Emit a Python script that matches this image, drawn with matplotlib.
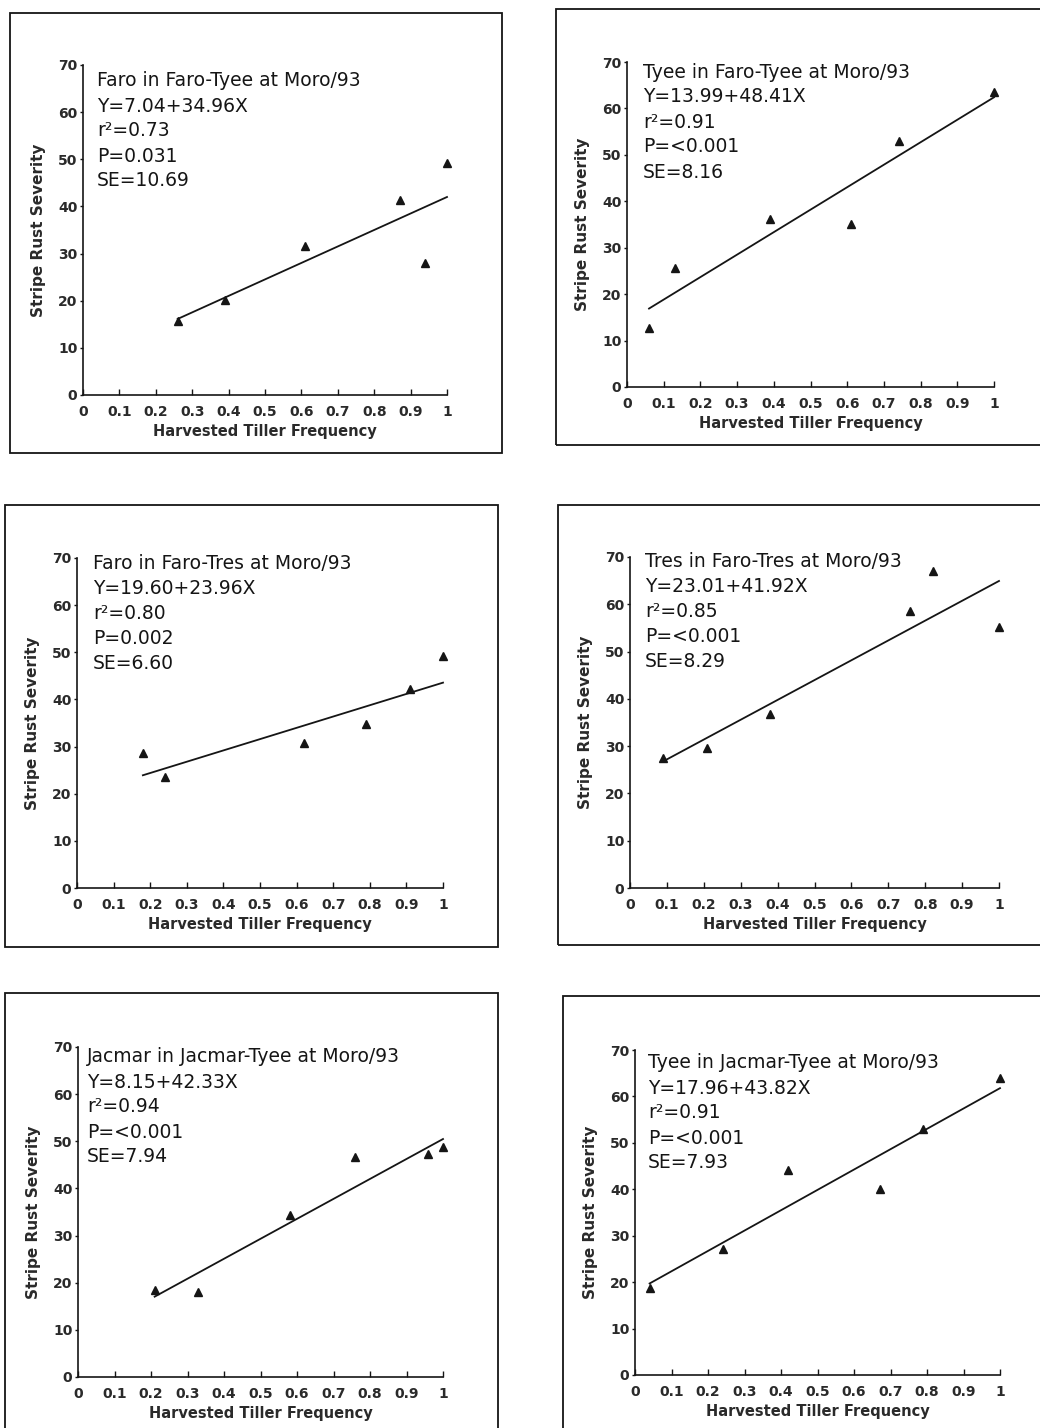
import matplotlib
matplotlib.use("Agg")
import matplotlib.pyplot as plt
from matplotlib.patches import Rectangle
import numpy as np

plt.rcParams['font.family'] = ['DejaVu Sans']

# ---- data ----
titles = [
    "Faro in Faro-Tyee at Moro/93",
    "Tyee in Faro-Tyee at Moro/93",
    "Faro in Faro-Tres at Moro/93",
    "Tres in Faro-Tres at Moro/93",
    "Jacmar in Jacmar-Tyee at Moro/93",
    "Tyee in Jacmar-Tyee at Moro/93",
]
intercepts = [7.04, 13.99, 19.60, 23.01, 8.15, 17.96]
slopes = [34.96, 48.41, 23.96, 41.92, 42.33, 43.82]
r2_vals = ["0.73", "0.91", "0.80", "0.85", "0.94", "0.91"]
p_vals = ["0.031", "<0.001", "0.002", "<0.001", "<0.001", "<0.001"]
se_vals = ["10.69", "8.16", "6.60", "8.29", "7.94", "7.93"]

x_faro_tyee = [0.26, 0.39, 0.61, 0.87, 0.94, 1.00]
y_faro_tyee = [15.8, 20.2, 31.6, 41.4, 28.0, 49.2]
x_tyee_faro = [0.06, 0.13, 0.39, 0.61, 0.74, 1.00]
y_tyee_faro = [12.7, 25.6, 36.2, 35.1, 53.0, 63.5]
x_faro_tres = [0.18, 0.24, 0.62, 0.79, 0.91, 1.00]
y_faro_tres = [28.6, 23.5, 30.8, 34.8, 42.2, 49.2]
x_tres_faro = [0.09, 0.21, 0.38, 0.76, 0.82, 1.00]
y_tres_faro = [27.5, 29.6, 36.8, 58.6, 67.0, 55.2]
x_jacmar_tyee = [0.21, 0.33, 0.58, 0.76, 0.96, 1.00]
y_jacmar_tyee = [18.5, 18.0, 34.4, 46.7, 47.3, 48.8]
x_tyee_jacmar = [0.04, 0.24, 0.42, 0.67, 0.79, 1.00]
y_tyee_jacmar = [18.7, 27.1, 44.2, 40.0, 53.0, 64.0]

xs = [x_faro_tyee, x_tyee_faro, x_faro_tres, x_tres_faro, x_jacmar_tyee, x_tyee_jacmar]
ys = [y_faro_tyee, y_tyee_faro, y_faro_tres, y_tres_faro, y_jacmar_tyee, y_tyee_jacmar]

x_ticks = [0, 0.1, 0.2, 0.3, 0.4, 0.5, 0.6, 0.7, 0.8, 0.9, 1]
x_ticklabels = ["0", "0.1", "0.2", "0.3", "0.4", "0.5", "0.6", "0.7", "0.8", "0.9", "1"]
y_ticks = [0, 10, 20, 30, 40, 50, 60, 70]
x_label = "Harvested Tiller Frequency"
y_label = "Stripe Rust Severity"

# ---- layout (pixels) ----
W, H = 1040, 1428
fig = plt.figure(figsize=(W / 100, H / 100), dpi=100)
fig.patch.set_facecolor("white")

axes_px = [
    (83, 447, 65, 395),
    (627, 994, 62, 387),
    (77, 443, 558, 888),
    (630, 999, 557, 888),
    (78, 443, 1047, 1377),
    (635, 1000, 1050, 1375),
]
frames_px = [
    (10, 502, 13, 453),
    (556, 1050, 9, 445),
    (5, 498, 505, 947),
    (558, 1050, 505, 945),
    (5, 498, 993, 1440),
    (563, 1050, 996, 1440),
]
# text block offset (px) from axes top-left corner to first line centre
text_off = [(14, 16), (16, 10), (16, 6), (15, 5), (9, 10), (13, 13)]
line_gap = 25

ink = "#151515"
tick_col = "#2a2a2a"

for (fx0, fx1, fy0, fy1) in frames_px:
    fig.patches.append(Rectangle((fx0 / W, 1 - fy1 / H), (fx1 - fx0) / W, (fy1 - fy0) / H,
                                 transform=fig.transFigure, fill=False,
                                 edgecolor=ink, linewidth=1.3, clip_on=False))

for i, (x0, x1, y0, y1) in enumerate(axes_px):
    ax = fig.add_axes([x0 / W, 1 - y1 / H, (x1 - x0) / W, (y1 - y0) / H])
    ax.set_xlim(0, 1.0)
    ax.set_ylim(0, 70)
    for s in ["top", "right"]:
        ax.spines[s].set_visible(False)
    for s in ["left", "bottom"]:
        ax.spines[s].set_color(ink)
        ax.spines[s].set_linewidth(1.2)
    ax.set_xticks(x_ticks)
    ax.set_xticklabels(x_ticklabels)
    ax.set_yticks(y_ticks)
    ax.tick_params(axis="x", direction="in", length=4, width=1, colors=ink,
                   labelsize=10, pad=7)
    ax.tick_params(axis="y", direction="out", length=2, width=1, colors=ink,
                   labelsize=10, pad=2)
    for lab in ax.get_xticklabels() + ax.get_yticklabels():
        lab.set_fontweight("bold")
        lab.set_color(tick_col)
    ax.set_xlabel(x_label, fontsize=10.5, fontweight="bold", color=tick_col, labelpad=4)
    ax.set_ylabel(y_label, fontsize=11, fontweight="bold", color=tick_col, labelpad=9)

    x = np.array(xs[i])
    y = np.array(ys[i])
    ax.plot(x, y, linestyle="none", marker="^", markersize=5.5, color=ink, clip_on=False, zorder=3)
    xl = np.array([x.min(), x.max()])
    ax.plot(xl, intercepts[i] + slopes[i] * xl, color=ink, linewidth=1.3, clip_on=False)

    lines = [
        titles[i],
        f"Y={intercepts[i]:.2f}+{slopes[i]:.2f}X",
        f"r²={r2_vals[i]}",
        f"P={p_vals[i]}",
        f"SE={se_vals[i]}",
    ]
    dx, dy = text_off[i]
    for k, t in enumerate(lines):
        ax.annotate(t, xy=(0, 1), xycoords="axes fraction",
                    xytext=(dx, -dy - k * line_gap), textcoords="offset pixels",
                    fontsize=13.5, color=ink, va="center", ha="left")

fig.savefig("out.png", dpi=100, facecolor="white")
